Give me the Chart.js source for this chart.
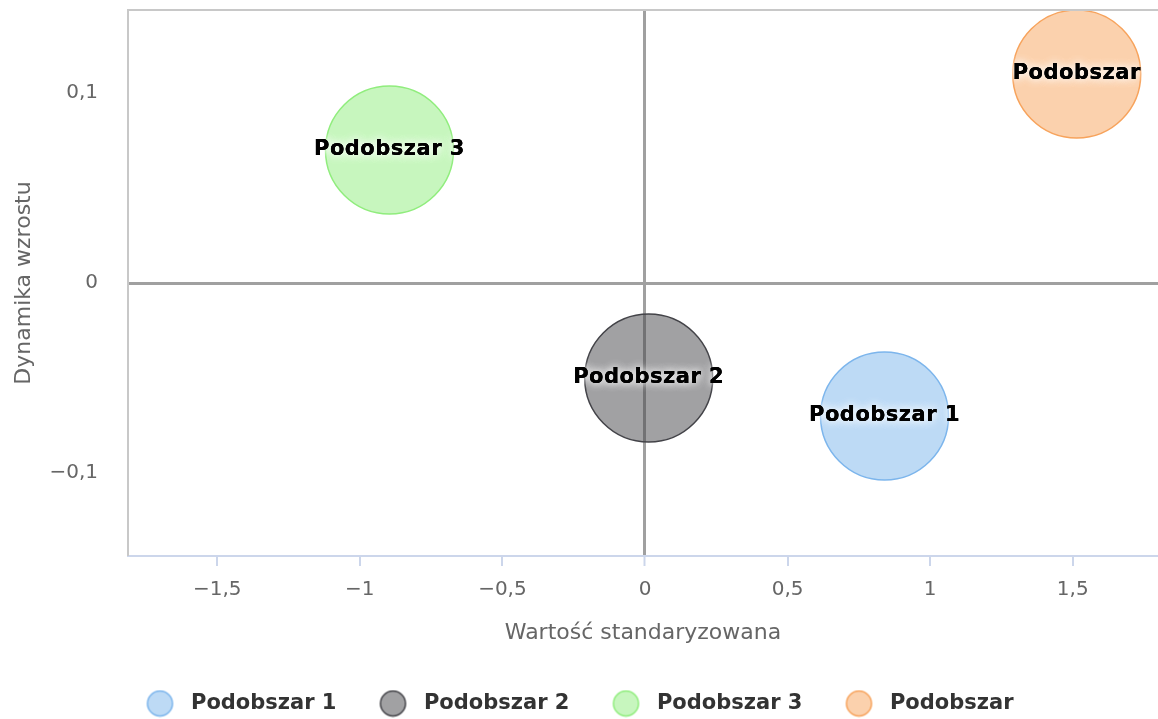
<!DOCTYPE html>
<html>
<head>
<meta charset="utf-8">
<script src="https://cdn.jsdelivr.net/npm/chart.js@4"></script>
<style>
  html, body { margin: 0; padding: 0; background: #fff; }
  #wrap { width: 1158px; height: 719px; }
</style>
</head>
<body>
<div id="wrap"><canvas id="myChart" width="1158" height="719"></canvas></div>
<script>
// values
const names = ["Podobszar 1", "Podobszar 2", "Podobszar 3", "Podobszar"];
const xValues = [0.84, 0.013, -0.896, 1.514];   // Wartość standaryzowana
const yValues = [-0.070, -0.050, 0.070, 0.110]; // Dynamika wzrostu
const xRange = [-1.813, 1.799];
const yRange = [-0.1437, 0.1437];

const lineColors = ["#7cb5ec", "#434348", "#90ed7d", "#f7a35c"];
const fillColors = ["rgba(124,181,236,0.5)", "rgba(67,67,72,0.5)", "rgba(144,237,125,0.5)", "rgba(247,163,92,0.5)"];

Chart.defaults.font.family = "'DejaVu Sans', sans-serif";

// polish number format with a real minus sign
function fmt(v) {
  const a = Math.round(Math.abs(v) * 100) / 100;
  return (v < 0 ? "\u2212" : "") + String(a).replace(".", ",");
}

// legend symbol: circle sitting at the left of a wider box
function legendDot(i) {
  const c = document.createElement("canvas");
  c.width = 36; c.height = 28;
  const g = c.getContext("2d");
  g.beginPath();
  g.arc(15.5, 14, 12.5, 0, Math.PI * 2);
  g.fillStyle = fillColors[i];
  g.fill();
  g.lineWidth = 1.5;
  g.strokeStyle = lineColors[i];
  g.stroke();
  return c;
}

const datasets = names.map((n, i) => ({
  label: n,
  data: [{ x: xValues[i], y: yValues[i] }],
  backgroundColor: fillColors[i],
  borderColor: lineColors[i],
  borderWidth: 1.5,
  radius: 64,
  hoverRadius: 64,
}));

const bubbleLabels = {
  id: "bubbleLabels",
  afterDatasetsDraw(chart) {
    const ctx = chart.ctx;
    ctx.save();
    ctx.font = "bold 21px 'DejaVu Sans', sans-serif";
    ctx.letterSpacing = "0.5px";
    ctx.textAlign = "center";
    ctx.textBaseline = "middle";
    chart.data.datasets.forEach((ds, i) => {
      const el = chart.getDatasetMeta(i).data[0];
      ctx.shadowColor = "rgba(255,255,255,0.9)";
      ctx.shadowBlur = 8;
      ctx.fillStyle = "#000";
      ctx.fillText(ds.label, el.x, el.y);
      ctx.fillText(ds.label, el.x, el.y);
      ctx.shadowBlur = 0;
      ctx.fillText(ds.label, el.x, el.y);
    });
    ctx.restore();
  },
};

const topBorder = {
  id: "topBorder",
  afterDraw(chart) {
    const a = chart.chartArea, ctx = chart.ctx;
    ctx.save();
    ctx.strokeStyle = "#c8c8c8";
    ctx.lineWidth = 2;
    ctx.beginPath();
    ctx.moveTo(a.left - 1, a.top);
    ctx.lineTo(a.right, a.top);
    ctx.stroke();
    ctx.restore();
  },
};

const config = {
  type: "bubble",
  data: { datasets: datasets },
  plugins: [bubbleLabels, topBorder],
  options: {
    responsive: false,
    animation: false,
    layout: { autoPadding: false, padding: { top: 10, right: 0, left: 0, bottom: -5 } },
    plugins: {
      tooltip: { enabled: false },
      legend: {
        position: "bottom",
        labels: {
          usePointStyle: true,
          pointStyleWidth: 36,
          padding: 41,
          color: "#333333",
          font: { size: 21, weight: "bold" },
          generateLabels(chart) {
            return chart.data.datasets.map((ds, i) => ({
              text: ds.label,
              pointStyle: legendDot(i),
              fillStyle: fillColors[i],
              strokeStyle: lineColors[i],
              lineWidth: 0,
              datasetIndex: i,
              hidden: false,
              fontColor: "#333333",
            }));
          },
        },
      },
    },
    scales: {
      x: {
        type: "linear",
        min: xRange[0],
        max: xRange[1],
        afterFit(s) { s.height = 96; s.paddingLeft = 0; s.paddingRight = 0; },
        ticks: {
          stepSize: 0.5,
          includeBounds: false,
          padding: 12,
          color: "#666666",
          font: { size: 20 },
          maxRotation: 0,
          callback: (v) => fmt(v),
        },
        grid: {
          color: (c) => (c.tick && c.tick.value === 0 ? "#a0a0a0" : "rgba(0,0,0,0)"),
          lineWidth: (c) => (c.tick && c.tick.value === 0 ? 3 : 0),
          tickColor: "#ccd6eb",
          tickWidth: 2,
          tickLength: 10,
        },
        border: { color: "#ccd6eb", width: 2 },
        title: {
          display: true,
          text: "Wartość standaryzowana",
          color: "#666666",
          font: { size: 22 },
          padding: { top: 0, bottom: 6 },
        },
      },
      y: {
        type: "linear",
        min: yRange[0],
        max: yRange[1],
        afterFit(s) { s.width = 128; s.paddingTop = 0; s.paddingBottom = 0; },
        ticks: {
          stepSize: 0.1,
          includeBounds: false,
          padding: 30,
          color: "#666666",
          font: { size: 20 },
          callback: (v) => fmt(v),
        },
        grid: {
          drawTicks: false,
          color: (c) => (c.tick && c.tick.value === 0 ? "#a0a0a0" : "rgba(0,0,0,0)"),
          lineWidth: (c) => (c.tick && c.tick.value === 0 ? 3 : 0),
        },
        border: { color: "#c8c8c8", width: 2 },
        title: {
          display: true,
          text: "Dynamika wzrostu",
          color: "#666666",
          font: { size: 22 },
          padding: { top: 11, bottom: 0 },
        },
      },
    },
  },
};

var myChart = new Chart(document.getElementById("myChart"), config);
</script>
</body>
</html>
